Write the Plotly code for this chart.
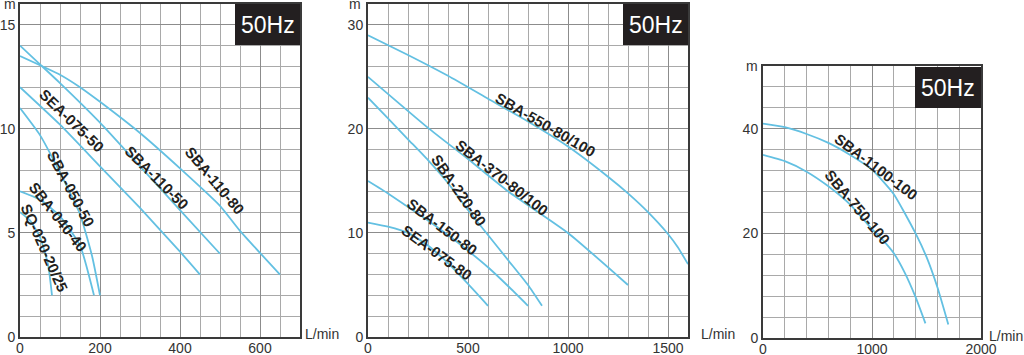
import plotly.graph_objects as go

W, H = 1024, 355

# ---------------- data ----------------
# Panel 1 (L/min vs m)
sba_110_80_x = [0, 100, 150, 200, 300, 400, 500, 550, 650]
sba_110_80_y = [13.5, 12.6, 12.0, 11.3, 9.8, 8.1, 6.3, 5.1, 3.0]
sba_110_50_x = [0, 50, 100, 200, 300, 400, 500]
sba_110_50_y = [14.0, 13.1, 12.2, 10.3, 8.2, 6.1, 4.0]
sea_075_50_x = [0, 100, 200, 300, 400, 450]
sea_075_50_y = [12.0, 10.2, 8.2, 6.2, 4.1, 3.0]
sba_050_50_x = [0, 50, 100, 150, 180, 200]
sba_050_50_y = [11.0, 9.7, 7.9, 5.9, 3.9, 2.0]
sba_040_40_x = [0, 50, 100, 150, 185]
sba_040_40_y = [7.0, 6.6, 5.8, 4.4, 2.0]
sq_020_x = [0, 25, 50, 70, 80]
sq_020_y = [6.0, 5.6, 4.8, 3.5, 2.0]

# Panel 2
sba_550_x = [0, 200, 400, 600, 800, 1000, 1200, 1300, 1400, 1500, 1550, 1600]
sba_550_y = [29.0, 27.1, 25.1, 22.9, 20.7, 18.3, 15.4, 13.8, 12.0, 9.9, 8.6, 7.0]
sba_370_x = [0, 300, 500, 700, 1000, 1300]
sba_370_y = [25.0, 20.1, 17.1, 14.0, 10.0, 5.0]
sba_220_x = [0, 100, 200, 300, 400, 500, 600, 700, 800, 870]
sba_220_y = [23.0, 21.0, 19.0, 17.0, 14.8, 12.2, 9.8, 7.4, 5.0, 3.0]
sba_150_x = [0, 100, 200, 300, 400, 500, 600, 700, 800]
sba_150_y = [15.0, 13.8, 12.5, 11.2, 9.8, 8.3, 6.7, 4.9, 3.0]
sea_075_80_x = [0, 100, 200, 300, 400, 500, 600]
sea_075_80_y = [11.0, 10.6, 10.0, 8.8, 7.1, 5.1, 3.0]

# Panel 3
sba_1100_x = [0, 200, 400, 600, 800, 1000, 1200, 1400, 1500, 1600, 1700]
sba_1100_y = [41.0, 40.3, 39.0, 37.3, 35.0, 32.2, 27.5, 20.0, 15.5, 9.7, 2.6]
sba_750_x = [0, 200, 400, 600, 800, 1000, 1100, 1200, 1300, 1400, 1490]
sba_750_y = [35.0, 33.8, 31.8, 29.0, 25.5, 20.8, 18.7, 16.2, 12.5, 7.8, 2.8]

panel1 = [
    ("SBA-110-80", sba_110_80_x, sba_110_80_y),
    ("SBA-110-50", sba_110_50_x, sba_110_50_y),
    ("SEA-075-50", sea_075_50_x, sea_075_50_y),
    ("SBA-050-50", sba_050_50_x, sba_050_50_y),
    ("SBA-040-40", sba_040_40_x, sba_040_40_y),
    ("SQ-020-20/25", sq_020_x, sq_020_y),
]
panel2 = [
    ("SBA-550-80/100", sba_550_x, sba_550_y),
    ("SBA-370-80/100", sba_370_x, sba_370_y),
    ("SBA-220-80", sba_220_x, sba_220_y),
    ("SBA-150-80", sba_150_x, sba_150_y),
    ("SEA-075-80", sea_075_80_x, sea_075_80_y),
]
panel3 = [
    ("SBA-1100-100", sba_1100_x, sba_1100_y),
    ("SBA-750-100", sba_750_x, sba_750_y),
]

freq_label = "50Hz"
x_unit = "L/min"
y_unit = "m"

# ---------------- layout (pixel boxes) ----------------
boxes = {  # left, right, top, bottom in px
    1: (20, 300, 4, 337),
    2: (368, 688, 4, 337),
    3: (763, 981, 66, 338),
}
ranges = {
    1: dict(x=[0, 700], y=[0, 16], xd=200, xm=50, yd=5, ym=1),
    2: dict(x=[0, 1600], y=[0, 32], xd=500, xm=100, yd=10, ym=2),
    3: dict(x=[0, 2000], y=[0, 52], xd=1000, xm=200, yd=20, ym=4),
}

CURVE = "#63c0e2"
GRID = "#a9a9a9"
FRAME = "#3a3a3a"
TXT = "#333333"
FONT = "Liberation Sans, Arial"

fig = go.Figure()
for i, panel in zip([1, 2, 3], [panel1, panel2, panel3]):
    xa = "x" if i == 1 else f"x{i}"
    ya = "y" if i == 1 else f"y{i}"
    for name, xs, ys in panel:
        fig.add_trace(go.Scatter(x=xs, y=ys, mode="lines", name=name,
                                 line=dict(color=CURVE, width=1.8, shape="spline", smoothing=0.5),
                                 xaxis=xa, yaxis=ya, showlegend=False, hoverinfo="skip"))

for i in [1, 2, 3]:
    l, r, t, b = boxes[i]
    rg = ranges[i]
    xk = "xaxis" if i == 1 else f"xaxis{i}"
    yk = "yaxis" if i == 1 else f"yaxis{i}"
    common = dict(showgrid=True, gridcolor="#8c8c8c", gridwidth=1,
                  showline=True, linecolor=FRAME, linewidth=2, mirror=True,
                  zeroline=False, ticks="", automargin=False,
                  tickfont=dict(family=FONT, size=14, color=TXT), fixedrange=True, tick0=0)
    fig.layout[xk] = dict(
        domain=[l / W, r / W], range=rg["x"], anchor="y" if i == 1 else f"y{i}",
        dtick=rg["xd"], minor=dict(dtick=rg["xm"], showgrid=True, gridcolor=GRID, gridwidth=1),
        ticklabelstandoff=-3, **common)
    fig.layout[yk] = dict(
        domain=[1 - b / H, 1 - t / H], range=rg["y"], anchor="x" if i == 1 else f"x{i}",
        dtick=rg["yd"], minor=dict(dtick=rg["ym"], showgrid=True, gridcolor=GRID, gridwidth=1),
        **common)

shapes = []
annotations = []
# 50Hz boxes (px)
hz_boxes = [(235, 300, 4, 45), (623, 688, 4, 45), (915, 981, 67, 108)]
for (x0, x1, y0, y1) in hz_boxes:
    shapes.append(dict(type="rect", xref="paper", yref="paper",
                       x0=x0 / W, x1=x1 / W, y0=1 - y1 / H, y1=1 - y0 / H,
                       fillcolor="#231f20", line=dict(width=0), layer="above"))
    annotations.append(dict(text=freq_label, xref="paper", yref="paper",
                            x=(x0 + x1) / 2 / W, y=1 - (y0 + y1) / 2 / H,
                            showarrow=False, xanchor="center", yanchor="middle",
                            font=dict(family=FONT, size=23, color="white")))

# axis unit labels (px)
units = [(y_unit, 10, 4), (y_unit, 355, 4), (y_unit, 752, 66),
         (x_unit, 322, 334), (x_unit, 718, 334), (x_unit, 1006, 336)]
for txt, px, py in units:
    annotations.append(dict(text=txt, xref="paper", yref="paper", x=px / W, y=1 - py / H,
                            showarrow=False, xanchor="center", yanchor="middle",
                            font=dict(family=FONT, size=14, color=TXT)))

# curve labels (px centre, angle)
labels = [
    ("SEA-075-50", 72, 120, 44), ("SBA-050-50", 71, 188, 62), ("SBA-040-40", 58, 216, 52),
    ("SQ-020-20/25", 44, 248, 66), ("SBA-110-50", 157, 177, 45), ("SBA-110-80", 215, 180, 50),
    ("SBA-550-80/100", 545, 125, 30), ("SBA-370-80/100", 502, 177, 38), ("SBA-220-80", 458, 190, 55),
    ("SBA-150-80", 442, 226, 37), ("SEA-075-80", 437, 252, 36),
    ("SBA-1100-100", 876, 166, 37), ("SBA-750-100", 858, 207, 50),
]
for txt, px, py, ang in labels:
    annotations.append(dict(text=f"<b>{txt}</b>", xref="paper", yref="paper", x=px / W, y=1 - py / H,
                            showarrow=False, xanchor="center", yanchor="middle", textangle=ang,
                            font=dict(family=FONT, size=15, color="#231f20")))

fig.update_layout(width=W, height=H, autosize=False, margin=dict(l=0, r=0, t=0, b=0),
                  paper_bgcolor="white", plot_bgcolor="white", shapes=shapes,
                  annotations=annotations)
fig.write_html("out.html", config={"displayModeBar": False, "staticPlot": True},
               post_script="document.body.style.margin='0';document.body.style.overflow='hidden';")
